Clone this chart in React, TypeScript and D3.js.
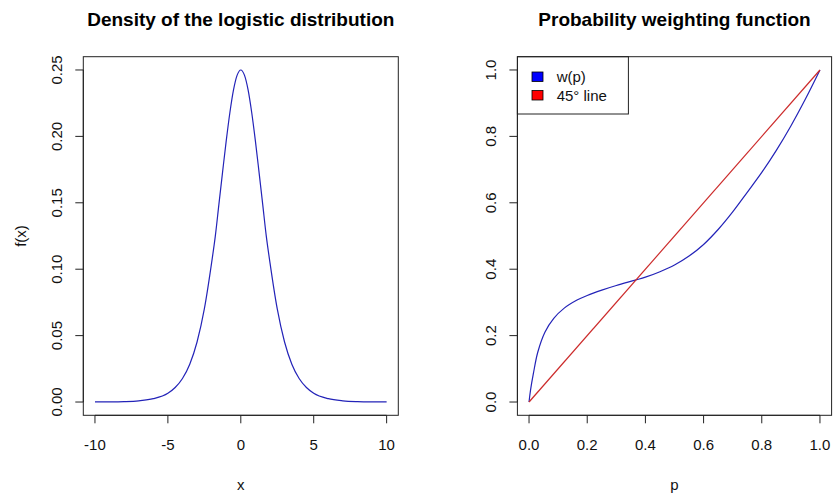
import React, { useEffect } from "react";
import * as d3 from "d3";

// ---- Data ----
const densityX = [-10, -9, -8, -7, -6, -5, -4.5, -4, -3.5, -3, -2.5, -2, -1.75, -1.5, -1.25, -1, -0.75, -0.5, -0.25, 0, 0.25, 0.5, 0.75, 1, 1.25, 1.5, 1.75, 2, 2.5, 3, 3.5, 4, 4.5, 5, 6, 7, 8, 9, 10];
const densityY = [0.00005, 0.0001, 0.0003, 0.0009, 0.0025, 0.0066, 0.0109, 0.0177, 0.0285, 0.0452, 0.0701, 0.105, 0.1247, 0.149, 0.1731, 0.1966, 0.2178, 0.235, 0.2461, 0.25, 0.2461, 0.235, 0.2178, 0.1966, 0.1731, 0.149, 0.1247, 0.105, 0.0701, 0.0452, 0.0285, 0.0177, 0.0109, 0.0066, 0.0025, 0.0009, 0.0003, 0.0001, 0.00005];

const probP = [0, 0.005, 0.015, 0.03, 0.055, 0.085, 0.12, 0.165, 0.2, 0.25, 0.3, 0.365, 0.4, 0.45, 0.5, 0.55, 0.6, 0.65, 0.7, 0.75, 0.8, 0.85, 0.9, 0.95, 1];
const weightW = [0, 0.035, 0.086, 0.15, 0.211, 0.252, 0.282, 0.307, 0.321, 0.337, 0.351, 0.367, 0.376, 0.3925, 0.4125, 0.4395, 0.4745, 0.5195, 0.5725, 0.6315, 0.6915, 0.758, 0.8315, 0.9125, 1];

const lineP = [0, 1];
const lineW = [0, 1];

const leftXTicks = [-10, -5, 0, 5, 10];
const leftYTicks = [0, 0.05, 0.1, 0.15, 0.2, 0.25];
const rightTicks = [0, 0.2, 0.4, 0.6, 0.8, 1];

const legendLabels = ["w(p)", "45° line"];
const legendColors = ["#0000ff", "#ff0000"];

const FONT = "Liberation Sans, Arial, sans-serif";
const TOP = 56.7;
const BOTTOM = 415.3;

function Panel(props: {
  x0: number; x1: number; xDomain: [number, number]; yDomain: [number, number];
  xTicks: number[]; yTicks: number[]; xFmt: (v: number) => string; yFmt: (v: number) => string;
  title: string; xLabel: string; yLabel: string; children: (x: any, y: any) => React.ReactNode;
}) {
  const { x0, x1, xDomain, yDomain } = props;
  const xr = xDomain[1] - xDomain[0];
  const yr = yDomain[1] - yDomain[0];
  const x = d3.scaleLinear().domain([xDomain[0] - 0.04 * xr, xDomain[1] + 0.04 * xr]).range([x0, x1]);
  const y = d3.scaleLinear().domain([yDomain[0] - 0.04 * yr, yDomain[1] + 0.04 * yr]).range([BOTTOM, TOP]);
  const cx = (x0 + x1) / 2;
  const cy = (TOP + BOTTOM) / 2;
  const tk = 8;
  return (
    <g>
      <text x={cx} y={26} textAnchor="middle" fontFamily={FONT} fontWeight="bold" fontSize={19} fill="#000">{props.title}</text>
      {props.children(x, y)}
      <rect x={x0} y={TOP} width={x1 - x0} height={BOTTOM - TOP} fill="none" stroke="#222" strokeWidth={1} />
      {/* x axis */}
      <line x1={x(props.xTicks[0])} x2={x(props.xTicks[props.xTicks.length - 1])} y1={BOTTOM} y2={BOTTOM} stroke="#222" />
      {props.xTicks.map((t) => (
        <g key={"xt" + t}>
          <line x1={x(t)} x2={x(t)} y1={BOTTOM} y2={BOTTOM + tk} stroke="#222" />
          <text x={x(t)} y={450} textAnchor="middle" fontFamily={FONT} fontSize={15} fill="#111">{props.xFmt(t)}</text>
        </g>
      ))}
      <text x={cx} y={490} textAnchor="middle" fontFamily={FONT} fontSize={15} fill="#111">{props.xLabel}</text>
      {/* y axis */}
      <line x1={x0} x2={x0} y1={y(props.yTicks[0])} y2={y(props.yTicks[props.yTicks.length - 1])} stroke="#222" />
      {props.yTicks.map((t) => (
        <g key={"yt" + t}>
          <line x1={x0} x2={x0 - tk} y1={y(t)} y2={y(t)} stroke="#222" />
          <text transform={`translate(${x0 - 21.7},${y(t)}) rotate(-90)`} textAnchor="middle" fontFamily={FONT} fontSize={15} fill="#111">{props.yFmt(t)}</text>
        </g>
      ))}
      <text transform={`translate(${x0 - 57.5},${cy}) rotate(-90)`} textAnchor="middle" fontFamily={FONT} fontSize={15} fill="#111">{props.yLabel}</text>
    </g>
  );
}

export default function App() {
  useEffect(() => {
    document.body.style.margin = "0";
  }, []);

  const densityData = densityX.map((v, i) => [v, densityY[i]] as [number, number]);
  const weightData = probP.map((v, i) => [v, weightW[i]] as [number, number]);
  const diagData = lineP.map((v, i) => [v, lineW[i]] as [number, number]);

  return (
    <svg width={833} height={498} style={{ display: "block", background: "#fff" }}>
      <rect width={833} height={498} fill="#fff" />
      <Panel
        x0={83.3} x1={398.3} xDomain={[-10, 10]} yDomain={[0, 0.25]}
        xTicks={leftXTicks} yTicks={leftYTicks}
        xFmt={(v) => String(v)} yFmt={(v) => v.toFixed(2)}
        title="Density of the logistic distribution" xLabel="x" yLabel="f(x)"
      >
        {(x: any, y: any) => {
          const line = d3.line<[number, number]>().x((d) => x(d[0])).y((d) => y(d[1])).curve(d3.curveMonotoneX);
          return <path d={line(densityData) || ""} fill="none" stroke="#2323b8" strokeWidth={1.2} />;
        }}
      </Panel>
      <Panel
        x0={517.4} x1={831.6} xDomain={[0, 1]} yDomain={[0, 1]}
        xTicks={rightTicks} yTicks={rightTicks}
        xFmt={(v) => v.toFixed(1)} yFmt={(v) => v.toFixed(1)}
        title="Probability weighting function" xLabel="p" yLabel=""
      >
        {(x: any, y: any) => {
          const curveLine = d3.line<[number, number]>().x((d) => x(d[0])).y((d) => y(d[1])).curve(d3.curveCatmullRom.alpha(0.5));
          const straight = d3.line<[number, number]>().x((d) => x(d[0])).y((d) => y(d[1]));
          return (
            <g>
              <path d={curveLine(weightData) || ""} fill="none" stroke="#2323b8" strokeWidth={1.2} />
              <path d={straight(diagData) || ""} fill="none" stroke="#cc2a2a" strokeWidth={1.2} />
              <rect x={517.4} y={TOP} width={111} height={57.3} fill="#fff" stroke="#222" strokeWidth={1} />
              {legendLabels.map((lab, i) => (
                <g key={lab}>
                  <rect x={532} y={72 + i * 18.5} width={11} height={9.5} fill={legendColors[i]} stroke="#000" strokeWidth={0.8} />
                  <text x={556.7} y={82 + i * 18.5} fontFamily={FONT} fontSize={15} fill="#111">{lab}</text>
                </g>
              ))}
            </g>
          );
        }}
      </Panel>
    </svg>
  );
}
